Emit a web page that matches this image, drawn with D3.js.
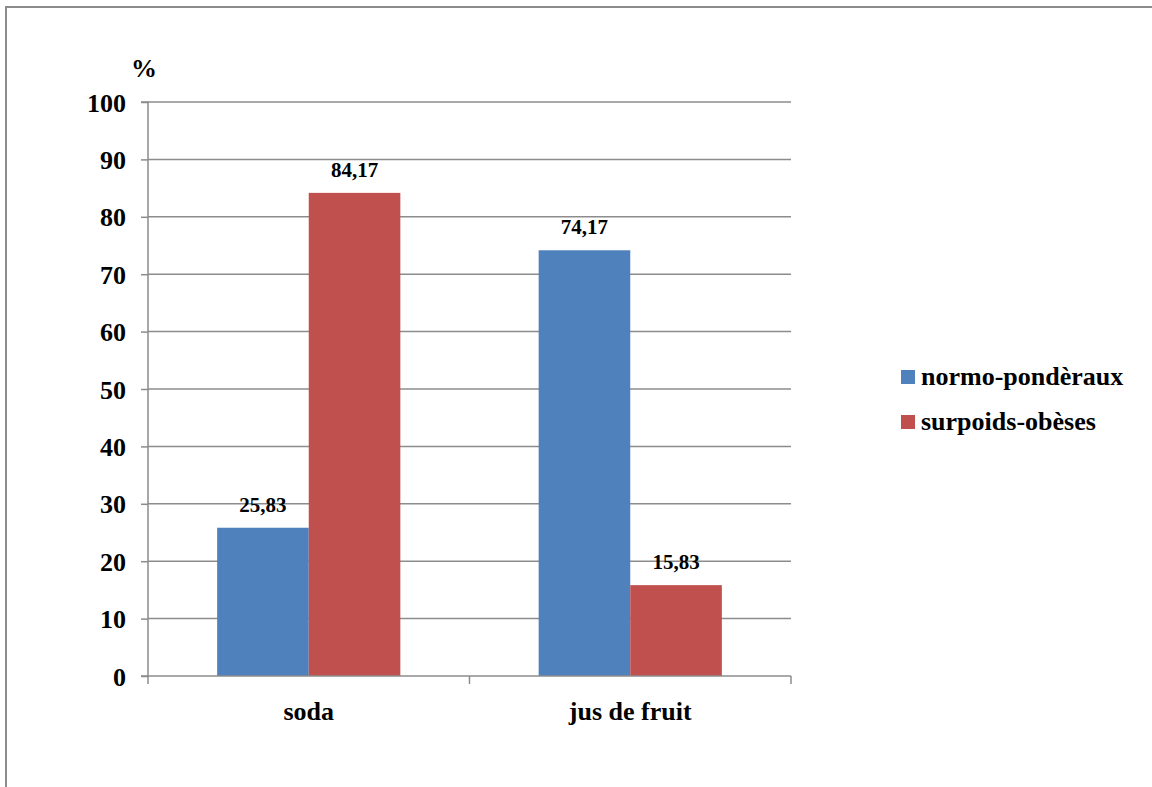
<!DOCTYPE html>
<html>
<head>
<meta charset="utf-8">
<script src="https://cdn.jsdelivr.net/npm/d3@7"></script>
<style>
  html, body { margin: 0; padding: 0; background: #fff; }
  svg { display: block; }
</style>
</head>
<body>
<svg id="chart" width="1152" height="787"></svg>
<script>
// Beverage consumption (%) by weight group
const categories = ["soda", "jus de fruit"];
const seriesNames = ["normo-pondèraux", "surpoids-obèses"];
const normoValues = [25.83, 74.17];
const surpoidsValues = [84.17, 15.83];
const valueLabels = [["25,83", "74,17"], ["84,17", "15,83"]];
const yTicks = [0, 10, 20, 30, 40, 50, 60, 70, 80, 90, 100];
const colors = ["#4F81BD", "#C0504D"];

const FONT = "Liberation Serif";
const series = [normoValues, surpoidsValues];
const svg = d3.select("#chart");

function styleText(sel, size) {
  return sel.attr("font-family", FONT).attr("font-weight", "bold")
    .attr("font-size", size).attr("fill", "#000");
}

// outer chart frame
svg.append("rect")
  .attr("x", 6).attr("y", 7)
  .attr("width", 1160).attr("height", 800)
  .attr("fill", "none").attr("stroke", "#8c8c8c").attr("stroke-width", 2);

const plot = { left: 148, right: 791, top: 102, bottom: 676 };

const x0 = d3.scaleBand().domain(categories).range([plot.left, plot.right]).paddingInner(0).paddingOuter(0);
const x1 = d3.scaleBand().domain(d3.range(series.length)).range([0, x0.bandwidth()]).paddingOuter(0.755).paddingInner(0);
const y = d3.scaleLinear().domain([0, 100]).range([plot.bottom, plot.top]);

// horizontal gridlines
svg.append("g").selectAll("line").data(yTicks.filter(d => d > 0)).join("line")
  .attr("x1", plot.left).attr("x2", plot.right)
  .attr("y1", d => y(d)).attr("y2", d => y(d))
  .attr("stroke", "#8c8c8c").attr("stroke-width", 1.5);

// bars with value labels
categories.forEach((cat, ci) => {
  series.forEach((vals, si) => {
    svg.append("rect")
      .attr("x", x0(cat) + x1(si))
      .attr("y", y(vals[ci]))
      .attr("width", x1.bandwidth())
      .attr("height", y(0) - y(vals[ci]))
      .attr("fill", colors[si]);
    styleText(svg.append("text"), 21)
      .attr("x", x0(cat) + x1(si) + x1.bandwidth() / 2)
      .attr("y", y(vals[ci]) - 16)
      .attr("text-anchor", "middle")
      .text(valueLabels[si][ci]);
  });
});

// y axis
const yAxis = d3.axisLeft(y).tickValues(yTicks).tickSize(7).tickPadding(15).tickFormat(d3.format("d"));
const gy = svg.append("g").attr("transform", `translate(${plot.left},0)`).call(yAxis);
gy.attr("font-family", FONT);
gy.select(".domain").attr("stroke", "#8c8c8c").attr("stroke-width", 1.5).attr("d", `M-7,${plot.top}H0V${plot.bottom}`);
gy.selectAll(".tick line").attr("stroke", "#8c8c8c").attr("stroke-width", 1.5);
styleText(gy.selectAll(".tick text"), 26).attr("dy", "0.35em");

// x axis
const gx = svg.append("g").attr("transform", `translate(0,${plot.bottom})`);
gx.append("line").attr("x1", plot.left - 7).attr("x2", plot.right)
  .attr("stroke", "#8c8c8c").attr("stroke-width", 1.5);
const bounds = [plot.left, ...categories.map(c => x0(c) + x0.bandwidth())];
gx.selectAll("line.sep").data(bounds).join("line").attr("class", "sep")
  .attr("x1", d => d).attr("x2", d => d).attr("y1", 0).attr("y2", 8)
  .attr("stroke", "#8c8c8c").attr("stroke-width", 1.5);
styleText(gx.selectAll("text").data(categories).join("text"), 26)
  .attr("x", d => x0(d) + x0.bandwidth() / 2)
  .attr("y", 44)
  .attr("text-anchor", "middle")
  .text(d => d);

// axis unit
styleText(svg.append("text"), 26).attr("x", 144).attr("y", 77).attr("text-anchor", "middle").text("%");

// legend
const legend = svg.append("g").attr("transform", "translate(901,370)");
seriesNames.forEach((name, i) => {
  const g = legend.append("g").attr("transform", `translate(0,${i * 45})`);
  g.append("rect").attr("width", 14).attr("height", 14).attr("fill", colors[i]);
  styleText(g.append("text"), 26).attr("x", 20).attr("y", 15).text(name);
});
</script>
</body>
</html>
